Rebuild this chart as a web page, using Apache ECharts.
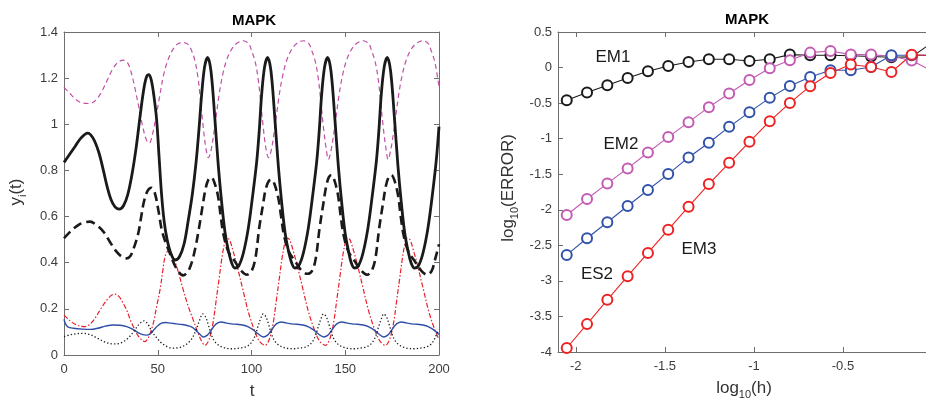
<!DOCTYPE html>
<html><head><meta charset="utf-8">
<script src="https://cdn.jsdelivr.net/npm/echarts@6/dist/echarts.min.js"></script>
<style>html,body{margin:0;padding:0;background:#fff}#c{width:926px;height:401px}</style>
</head><body><div id="c"></div>
<script>
// ---------- LEFT PANEL: y_i(t) curves, [t, value] ----------
const solidBlack = [
[0,0.835],[3,0.87],[6,0.905],[9,0.94],[12.6,0.962],[15.5,0.94],[18.5,0.88],[21,0.80],[23,0.73],[25,0.675],[27.2,0.642],[29.5,0.632],[31.8,0.648],[34,0.695],[36.2,0.78],[38.5,0.90],[40.5,1.03],[42.5,1.15],[44,1.205],[45.3,1.215],[46.6,1.19],[48,1.12],[49.4,1.02],[50.7,0.86],[52,0.70],[53.4,0.58],[55,0.50],[57,0.44],[59.2,0.412],[61.5,0.425],[64,0.48],[66.3,0.585],[68.5,0.70],[70.5,0.84],[72,0.98],[73.4,1.128],[75,1.25],[76.6,1.29],
[78.4,1.23],[80.5,1.02],[82.3,0.82],[84.1,0.66],[85.9,0.53],[87.6,0.455],[89.4,0.40],[91.1,0.377],[93.1,0.385],[95.6,0.44],[98.3,0.55],[100.6,0.69],[102.8,0.84],[104.2,0.98],[105.4,1.128],[107,1.25],[108.6,1.29],
[110.4,1.23],[112.5,1.02],[114.3,0.82],[116.1,0.66],[117.9,0.53],[119.6,0.455],[121.4,0.40],[123.1,0.377],[125.1,0.385],[127.6,0.44],[130.3,0.55],[132.6,0.69],[134.8,0.84],[136.2,0.98],[137.4,1.128],[139,1.25],[140.6,1.29],
[142.4,1.23],[144.5,1.02],[146.3,0.82],[148.1,0.66],[149.9,0.53],[151.6,0.455],[153.2,0.40],[154.9,0.377],[156.9,0.385],[159.4,0.44],[162.1,0.55],[164.4,0.69],[166.6,0.84],[168,0.98],[169.2,1.128],[170.8,1.25],[172.4,1.29],
[174.2,1.23],[176.3,1.02],[178.1,0.82],[179.9,0.66],[181.7,0.53],[183.4,0.455],[185.1,0.40],[186.9,0.377],[188.9,0.385],[191.4,0.44],[194.1,0.55],[196.4,0.69],[198.5,0.84],[200,0.99]];

const dashedBlack = [
[0,0.506],[4,0.54],[8,0.565],[11,0.575],[13.9,0.578],[17,0.565],[21,0.535],[24.5,0.49],[28,0.448],[31,0.425],[33.4,0.419],[35.5,0.43],[37.5,0.47],[39.6,0.527],[41.2,0.60],[42.5,0.66],[44.5,0.71],[46.6,0.725],[48.5,0.70],[50.5,0.62],[52.5,0.53],[56.5,0.44],[60,0.375],[63.5,0.345],[66,0.36],[68.1,0.40],[70.2,0.47],[72,0.55],[73.8,0.64],[75.5,0.72],[77,0.76],[78.6,0.77],
[80.1,0.75],[82.1,0.69],[83.6,0.60],[85.1,0.52],[87.6,0.45],[91.1,0.406],[94.6,0.365],[97.6,0.348],[100.1,0.365],[102.1,0.42],[104.1,0.55],[106.1,0.65],[107.6,0.72],[109.3,0.755],[110.8,0.76],
[112.3,0.74],[114.3,0.68],[115.8,0.60],[117.3,0.52],[119.8,0.45],[123.3,0.406],[126.8,0.365],[129.8,0.352],[132.3,0.365],[134.3,0.42],[136.3,0.55],[138.3,0.655],[139.8,0.73],[141.2,0.77],[142.6,0.78],
[144.1,0.76],[146.1,0.695],[147.6,0.60],[149.1,0.52],[151.6,0.45],[155.1,0.406],[158.6,0.365],[161.6,0.348],[164.1,0.365],[166.1,0.42],[168.1,0.55],[170.1,0.655],[171.6,0.73],[173.1,0.77],[174.6,0.78],
[176.1,0.76],[178.1,0.695],[179.6,0.60],[181.1,0.52],[183.6,0.45],[187.1,0.406],[190.6,0.365],[193.6,0.348],[196.1,0.365],[198.1,0.42],[200,0.48]];

const magentaDashed = [
[0,1.16],[3,1.135],[6,1.11],[9.5,1.093],[13.8,1.09],[17,1.105],[20,1.14],[23,1.19],[26,1.24],[29,1.27],[31.6,1.278],[34,1.265],[36,1.22],[38,1.15],[40,1.07],[42,0.99],[43.8,0.935],[45.5,0.918],[47,0.95],[48.8,1.02],[51,1.12],[53,1.21],[55.5,1.28],[58.5,1.33],[61,1.35],[63.6,1.354],[66.3,1.345],[68.5,1.31],[70,1.27],[71.5,1.20],[72.5,1.128],[74.3,0.984],[75.8,0.89],[77,0.855],
[78.5,0.89],[80.3,0.984],[82.7,1.128],[84.5,1.21],[86.5,1.273],[89,1.32],[92,1.35],[95.6,1.362],[98.5,1.35],[100,1.32],[101.9,1.273],[103.5,1.20],[104.5,1.128],[106.3,0.984],[107.8,0.89],[109.1,0.855],
[110.6,0.89],[112.4,0.984],[114.8,1.128],[116.6,1.21],[118.6,1.273],[121.1,1.32],[124.1,1.35],[127.7,1.362],[130.6,1.35],[132.1,1.32],[134,1.273],[135.6,1.20],[136.6,1.128],[138.4,0.984],[139.9,0.89],[141,0.848],
[142.5,0.89],[144.3,0.984],[146.7,1.128],[148.5,1.21],[150.5,1.273],[153,1.32],[156,1.35],[159.6,1.362],[162.5,1.35],[164,1.32],[165.9,1.273],[167.5,1.20],[168.5,1.128],[170.3,0.984],[171.8,0.89],[172.8,0.848],
[174.3,0.89],[176.1,0.984],[178.5,1.128],[180.3,1.21],[182.3,1.273],[184.8,1.32],[187.8,1.35],[191.4,1.362],[194.3,1.35],[195.8,1.32],[197.7,1.273],[199.3,1.20],[200,1.163]];

const redDashDot = [
[0,0.173],[3,0.15],[6,0.133],[9,0.124],[11.2,0.123],[14,0.135],[17,0.165],[20,0.205],[23,0.24],[25.5,0.26],[27.2,0.264],[29.5,0.252],[31.5,0.225],[33.4,0.195],[35.5,0.15],[37.9,0.108],[40,0.078],[43,0.058],[45,0.075],[47.6,0.137],[49.4,0.21],[51.2,0.282],[52.6,0.36],[53.9,0.426],[55.5,0.45],[57,0.445],[60.1,0.383],[63.6,0.282],[66.3,0.21],[69,0.15],[71.5,0.095],[73.5,0.058],[75.2,0.042],
[76.7,0.055],[78.2,0.09],[79.7,0.15],[81.2,0.24],[82.7,0.33],[84.2,0.42],[85.4,0.475],[86.7,0.507],[88.2,0.50],[90.2,0.45],[92.2,0.39],[95.2,0.29],[98.2,0.19],[101.2,0.115],[104.2,0.06],[107.3,0.042],
[108.8,0.055],[110.3,0.09],[111.8,0.15],[113.3,0.24],[114.8,0.33],[116.3,0.42],[117.5,0.475],[118.8,0.507],[120.3,0.50],[122.3,0.45],[124.3,0.39],[127.3,0.29],[130.3,0.19],[133.3,0.115],[136.3,0.06],[139.5,0.042],
[141,0.055],[142.5,0.09],[144,0.15],[145.5,0.24],[147,0.33],[148.5,0.42],[149.7,0.475],[151,0.507],[152.5,0.50],[154.5,0.45],[156.5,0.39],[159.5,0.29],[162.5,0.19],[165.5,0.115],[168.5,0.06],[171.5,0.042],
[173,0.055],[174.5,0.09],[176,0.15],[177.5,0.24],[179,0.33],[180.5,0.42],[181.7,0.475],[183,0.507],[184.5,0.50],[186.5,0.45],[188.5,0.39],[191.5,0.29],[194.5,0.19],[197.5,0.115],[200,0.068]];

const blueSolid = [
[0,0.155],[0.8,0.135],[2,0.122],[5,0.116],[10,0.112],[14,0.111],[18,0.116],[22,0.125],[26.3,0.13],[30,0.129],[33.4,0.123],[36.5,0.112],[39.5,0.097],[42,0.088],[44,0.086],[46,0.092],[48,0.11],[50,0.127],[52,0.138],[54,0.141],[57,0.138],[60,0.135],[63,0.132],[66,0.127],[68.5,0.12],[70.5,0.105],[72.5,0.09],[74.3,0.078],
[76.3,0.085],[78.3,0.105],[80.3,0.128],[82.3,0.14],[83.8,0.143],[86.3,0.139],[89.3,0.135],[92.3,0.133],[95.3,0.13],[98.3,0.122],[100.8,0.11],[103.3,0.093],[106.4,0.078],
[108.4,0.085],[110.4,0.105],[112.4,0.128],[114.4,0.14],[115.9,0.143],[118.4,0.139],[121.4,0.135],[124.4,0.133],[127.4,0.13],[130.4,0.122],[132.9,0.11],[135.4,0.093],[138.6,0.078],
[140.6,0.085],[142.6,0.105],[144.6,0.128],[146.6,0.14],[148.1,0.143],[150.6,0.139],[153.6,0.135],[156.6,0.133],[159.6,0.13],[162.6,0.122],[165.1,0.11],[167.6,0.093],[170.5,0.078],
[172.5,0.085],[174.5,0.105],[176.5,0.128],[178.5,0.14],[180,0.143],[182.5,0.139],[185.5,0.135],[188.5,0.133],[191.5,0.13],[194.5,0.122],[197,0.11],[200,0.089]];

const dottedBlack = [
[0,0.08],[3,0.087],[6.5,0.092],[10.3,0.094],[14,0.088],[18,0.072],[22,0.056],[26.3,0.048],[29.5,0.05],[32.5,0.062],[35,0.08],[37.5,0.105],[40,0.133],[42.7,0.148],[45,0.13],[47,0.10],[49.4,0.075],[52,0.052],[55,0.036],[58,0.03],[61,0.031],[64,0.04],[66.5,0.055],[68.5,0.075],[70.5,0.11],[72.3,0.15],[74,0.178],
[75.5,0.165],[77,0.13],[78.5,0.09],[80,0.063],[82,0.045],[84.5,0.034],[87.5,0.028],[90.5,0.027],[93.5,0.03],[96,0.033],[98.5,0.042],[100.5,0.06],[102,0.085],[103.5,0.125],[105,0.16],[106.2,0.178],
[107.7,0.165],[109.2,0.13],[110.7,0.09],[112.2,0.063],[114.2,0.045],[116.7,0.034],[119.7,0.028],[122.7,0.027],[125.7,0.03],[128.2,0.033],[130.7,0.042],[132.7,0.06],[134.2,0.085],[135.7,0.125],[137.2,0.16],[138.4,0.178],
[139.9,0.165],[141.4,0.13],[142.9,0.09],[144.4,0.063],[146.4,0.045],[148.9,0.034],[151.9,0.028],[154.9,0.027],[157.9,0.03],[160.4,0.033],[162.9,0.042],[164.9,0.06],[166.4,0.085],[167.9,0.125],[169.4,0.16],[170.5,0.178],
[172,0.165],[173.5,0.13],[175,0.09],[176.5,0.063],[178.5,0.045],[181,0.034],[184,0.028],[187,0.027],[190,0.03],[192.5,0.033],[195,0.042],[197,0.06],[198.5,0.085],[200,0.11]];

// ---------- RIGHT PANEL: log10(ERROR) vs log10(h) ----------
const logH = [-2.051,-1.937,-1.823,-1.709,-1.595,-1.481,-1.367,-1.253,-1.139,-1.025,-0.911,-0.798,-0.684,-0.570,-0.456,-0.342,-0.228,-0.114,0];
const em1 = [-0.459,-0.351,-0.248,-0.146,-0.052,0.022,0.079,0.117,0.117,0.093,0.117,0.182,0.173,0.173,0.165,0.155,0.145,0.15,0.35];
const em2 = [-2.073,-1.849,-1.629,-1.418,-1.194,-0.978,-0.768,-0.557,-0.365,-0.174,-0.01,0.102,0.21,0.233,0.182,0.182,0.159,0.10,-0.05];
const es2 = [-2.635,-2.40,-2.176,-1.947,-1.722,-1.498,-1.264,-1.058,-0.834,-0.627,-0.426,-0.258,-0.132,-0.038,-0.038,0.008,0.173,0.173,0.17];
const em3 = [-3.944,-3.608,-3.266,-2.934,-2.607,-2.28,-1.957,-1.638,-1.339,-1.044,-0.754,-0.497,-0.262,-0.076,0.042,0.008,-0.062,0.18,0.17];
const rightXTicks = [-2,-1.5,-1,-0.5,0];
const seriesNames = ['EM1','EM2','ES2','EM3'];

const FONT = '"Liberation Sans", Arial, Helvetica, sans-serif';
const AX = '#6e6e6e', LBL = '#3c3c3c';
const pair = (xs, ys) => xs.map((x, i) => [x, ys[i]]);

function xAx(grid, pos, min, max, interval, labels, custom) {
  const a = {type:'value', gridIndex:grid, position:pos, min, max,
    axisLine:{show:true, onZero:false, lineStyle:{color:AX, width:1}},
    axisTick:{show:true, inside:true, length:5, lineStyle:{color:AX}},
    axisLabel:{show:labels, color:LBL, fontFamily:FONT, fontSize:13, margin:8, hideOverlap:false},
    splitLine:{show:false}};
  if (interval) a.interval = interval;
  if (custom) { a.axisTick.customValues = custom; a.axisLabel.customValues = custom; }
  return a;
}
function yAx(grid, pos, min, max, interval, labels) {
  return {type:'value', gridIndex:grid, position:pos, min, max, interval,
    axisLine:{show:true, onZero:false, lineStyle:{color:AX, width:1}},
    axisTick:{show:true, inside:true, length:5, lineStyle:{color:AX}},
    axisLabel:{show:labels, color:LBL, fontFamily:FONT, fontSize:13, margin:6},
    splitLine:{show:false}};
}
function leftLine(data, color, width, type) {
  return {type:'line', xAxisIndex:0, yAxisIndex:0, data, showSymbol:false, smooth:0.35,
    lineStyle:{color, width, type, cap:'butt'}, silent:true};
}
function rightLine(name, ys, color) {
  return {type:'line', name, xAxisIndex:2, yAxisIndex:2, data:pair(logH, ys),
    symbol:'emptyCircle', symbolSize:10, showSymbol:true, showAllSymbol:true,
    lineStyle:{color, width:1.1}, itemStyle:{color, borderColor:color, borderWidth:1}, silent:true};
}
const rich = {
  n:{fontSize:17, fontFamily:FONT, fill:'#333', lineHeight:24, verticalAlign:'middle'},
  s:{fontSize:11, fontFamily:FONT, fill:'#333', lineHeight:11, verticalAlign:'bottom'}
};
function txt(x, y, text, opts) {
  return Object.assign({type:'text', x, y, silent:true,
    style:Object.assign({text, fill:'#1a1a1a', font:'17px ' + FONT, textAlign:'center', textVerticalAlign:'middle'}, opts || {})});
}

const chart = echarts.init(document.getElementById('c'), null, {renderer:'canvas'});
chart.setOption({
  animation:false,
  backgroundColor:'#fff',
  grid:[
    {left:64, top:32, width:375, height:323, outerBoundsMode:'none', containLabel:false},
    {left:558, top:32, width:374, height:320, outerBoundsMode:'none', containLabel:false}
  ],
  xAxis:[
    xAx(0,'bottom',0,200,50,true),
    xAx(0,'top',0,200,50,false),
    xAx(1,'bottom',-2.1,0,null,true,rightXTicks),
    xAx(1,'top',-2.1,0,null,false,rightXTicks)
  ],
  yAxis:[
    yAx(0,'left',0,1.4,0.2,true),
    yAx(0,'right',0,1.4,0.2,false),
    yAx(1,'left',-4,0.5,0.5,true),
    yAx(1,'right',-4,0.5,0.5,false)
  ],
  series:[
    leftLine(magentaDashed,'#c050a8',1.2,[5,3.5]),
    leftLine(redDashDot,'#e8202a',1.2,[5,2,1.5,2]),
    leftLine(blueSolid,'#2e4fa8',1.4,'solid'),
    leftLine(dottedBlack,'#1a1a1a',1.3,[1.3,2.2]),
    leftLine(dashedBlack,'#1a1a1a',2.6,[9,5]),
    leftLine(solidBlack,'#1a1a1a',2.8,'solid'),
    rightLine(seriesNames[0], em1, '#1a1a1a'),
    rightLine(seriesNames[1], em2, '#c35bb3'),
    rightLine(seriesNames[2], es2, '#3052aa'),
    rightLine(seriesNames[3], em3, '#ee2222')
  ],
  graphic:[
    txt(254,21,'MAPK',{font:'bold 15px ' + FONT, fill:'#000'}),
    txt(747,20,'MAPK',{font:'bold 15px ' + FONT, fill:'#000'}),
    txt(252,391,'t',{fill:'#333'}),
    Object.assign(txt(16,192,'{n|y}{s|i}{n|(t)}',{rich}),{rotation:Math.PI/2}),
    txt(744,388,'{n|log}{s|10}{n|(h)}',{rich}),
    Object.assign(txt(508,188,'{n|log}{s|10}{n|(ERROR)}',{rich}),{rotation:Math.PI/2}),
    txt(613,57,seriesNames[0]),
    txt(621,144,seriesNames[1]),
    txt(597,274,seriesNames[2]),
    txt(699,249,seriesNames[3])
  ]
});
</script></body></html>
